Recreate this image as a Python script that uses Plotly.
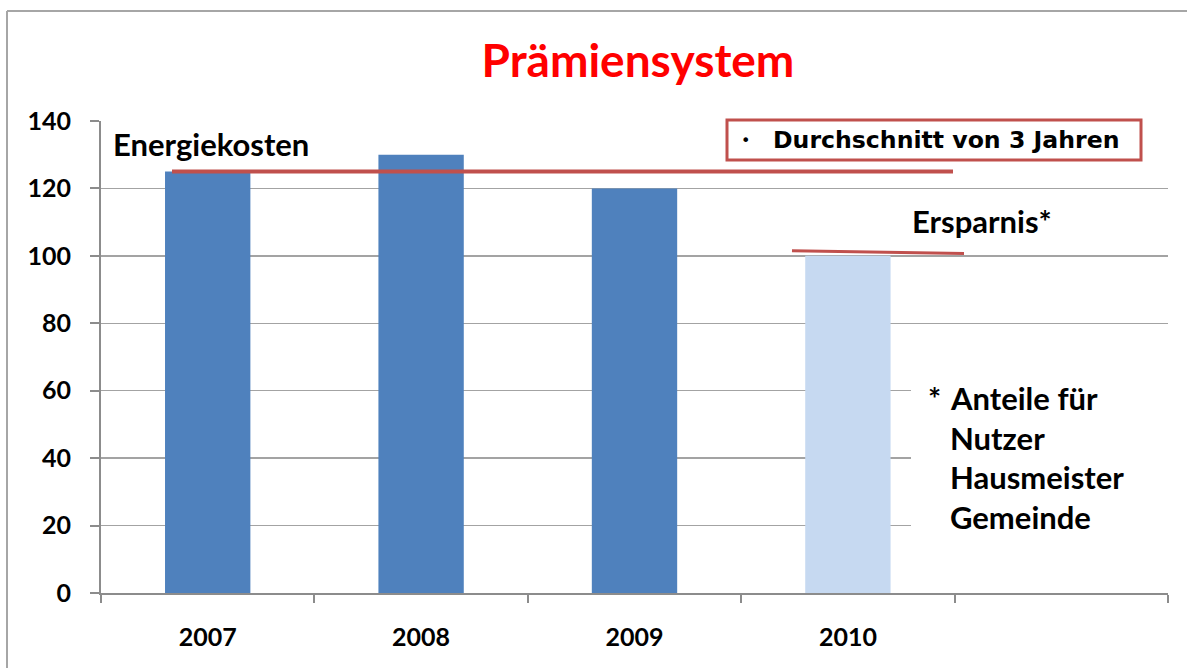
import plotly.graph_objects as go
import numpy as np

# ---- data ----
categories = ["2007", "2008", "2009", "2010", " "]
energiekosten = [125, 130, 120, 100, None]
bar_colors = ["#4F81BD", "#4F81BD", "#4F81BD", "#C6D9F1", "#4F81BD"]
avg_years = [125, 130, 120]          # values averaged ("Durchschnitt von 3 Jahren")
ersparnis_line = [101.5, 100.7]      # hand-drawn marker line above 2010
y_ticks = [0, 20, 40, 60, 80, 100, 120, 140]

title_text = "Prämiensystem"
label_energie = "Energiekosten"
label_ersparnis = "Ersparnis*"
label_durchschnitt = "Durchschnitt von 3 Jahren"
anteile_lines = ["Anteile für", "Nutzer", "Hausmeister", "Gemeinde"]

# ---- layout geometry (pixels) ----
W, H = 1187, 668
L, R, T, B = 101, 1168, 121, 593


def px(x):
    return (x - L) / (R - L)


def py(y):
    return (B - y) / (B - T)


FONT = "Lato"
RED = "#C0504D"
GRID = "#A3A3A3"
AXIS = "#8C8C8C"

fig = go.Figure()
fig.add_trace(go.Bar(
    x=categories, y=energiekosten, width=0.4,
    marker=dict(color=bar_colors, line=dict(width=0)),
    showlegend=False, hoverinfo="x+y",
))

avg = float(np.mean(avg_years))

shapes = [
    # outer frame (top and left edges visible)
    dict(type="line", xref="paper", yref="paper", x0=px(7), x1=px(1200), y0=py(11), y1=py(11),
         line=dict(color="#A6A6A6", width=2)),
    dict(type="line", xref="paper", yref="paper", x0=px(7), x1=px(7), y0=py(11), y1=py(680),
         line=dict(color="#A6A6A6", width=2)),
    # average line
    dict(type="line", xref="paper", yref="y", x0=px(172), x1=px(953), y0=avg, y1=avg,
         line=dict(color=RED, width=4), layer="above"),
    # savings marker line
    dict(type="line", xref="paper", yref="y", x0=px(792), x1=px(964),
         y0=ersparnis_line[0], y1=ersparnis_line[1],
         line=dict(color=RED, width=3), layer="above"),
    # white background behind footnote text
    dict(type="rect", xref="paper", yref="paper", x0=px(911), x1=px(1168), y0=py(365), y1=py(548),
         fillcolor="white", line=dict(width=0), layer="above"),
    # box around "Durchschnitt von 3 Jahren"
    dict(type="rect", xref="paper", yref="paper", x0=px(727), x1=px(1141), y0=py(120), y1=py(160),
         fillcolor="white", line=dict(color=RED, width=3), layer="above"),
]

big = dict(family=FONT, size=31, color="black", weight="bold")
annotations = [
    dict(text=label_energie, x=px(111), y=py(144), xanchor="left", yanchor="middle", font=big),
    dict(text=label_ersparnis, x=px(910), y=py(221), xanchor="left", yanchor="middle", font=big),
    dict(text="•", x=px(745), y=py(140), xanchor="center", yanchor="middle",
         font=dict(family="DejaVu Sans", size=16, color="black")),
    dict(text=label_durchschnitt, x=px(771), y=py(140), xanchor="left", yanchor="middle",
         font=dict(family="DejaVu Sans", size=23.6, color="black", weight="bold")),
    dict(text="*", x=px(926), y=py(398), xanchor="left", yanchor="middle", font=big),
]
for i, line in enumerate(anteile_lines):
    annotations.append(dict(text=line, x=px(948), y=py(398 + 39.7 * i),
                            xanchor="left", yanchor="middle", font=big))
for a in annotations:
    a.update(xref="paper", yref="paper", showarrow=False)

fig.update_layout(
    width=W, height=H,
    margin=dict(l=L, r=W - R, t=T, b=H - B, pad=0),
    paper_bgcolor="white", plot_bgcolor="white",
    title=dict(text=title_text, x=px(638), xref="paper", xanchor="center",
               y=1 - 61 / H, yref="container", yanchor="middle",
               font=dict(family=FONT, size=46, color="#FF0000", weight="bold")),
    shapes=shapes, annotations=annotations,
    bargap=0.6,
)
fig.update_xaxes(
    type="category", categoryorder="array", categoryarray=categories,
    range=[-0.5, len(categories) - 0.5],
    showgrid=False, showline=True, linecolor=AXIS, linewidth=2,
    ticks="outside", tickson="boundaries", ticklen=8, tickwidth=2, tickcolor=AXIS,
    tickfont=dict(family=FONT, size=25, color="black", weight="bold"),
    ticklabelstandoff=21, fixedrange=True,
)
fig.update_yaxes(
    range=[0, 140], tickvals=y_ticks,
    showgrid=True, gridcolor=GRID, gridwidth=1.5, zeroline=False,
    showline=True, linecolor=AXIS, linewidth=2,
    ticks="outside", ticklen=9, tickwidth=2, tickcolor=AXIS,
    tickfont=dict(family=FONT, size=25, color="black", weight="bold"),
    ticklabelstandoff=14, fixedrange=True,
)

fig.write_html("out.html", config={"displayModeBar": False, "staticPlot": True},
               post_script="document.body.style.margin='0';")
